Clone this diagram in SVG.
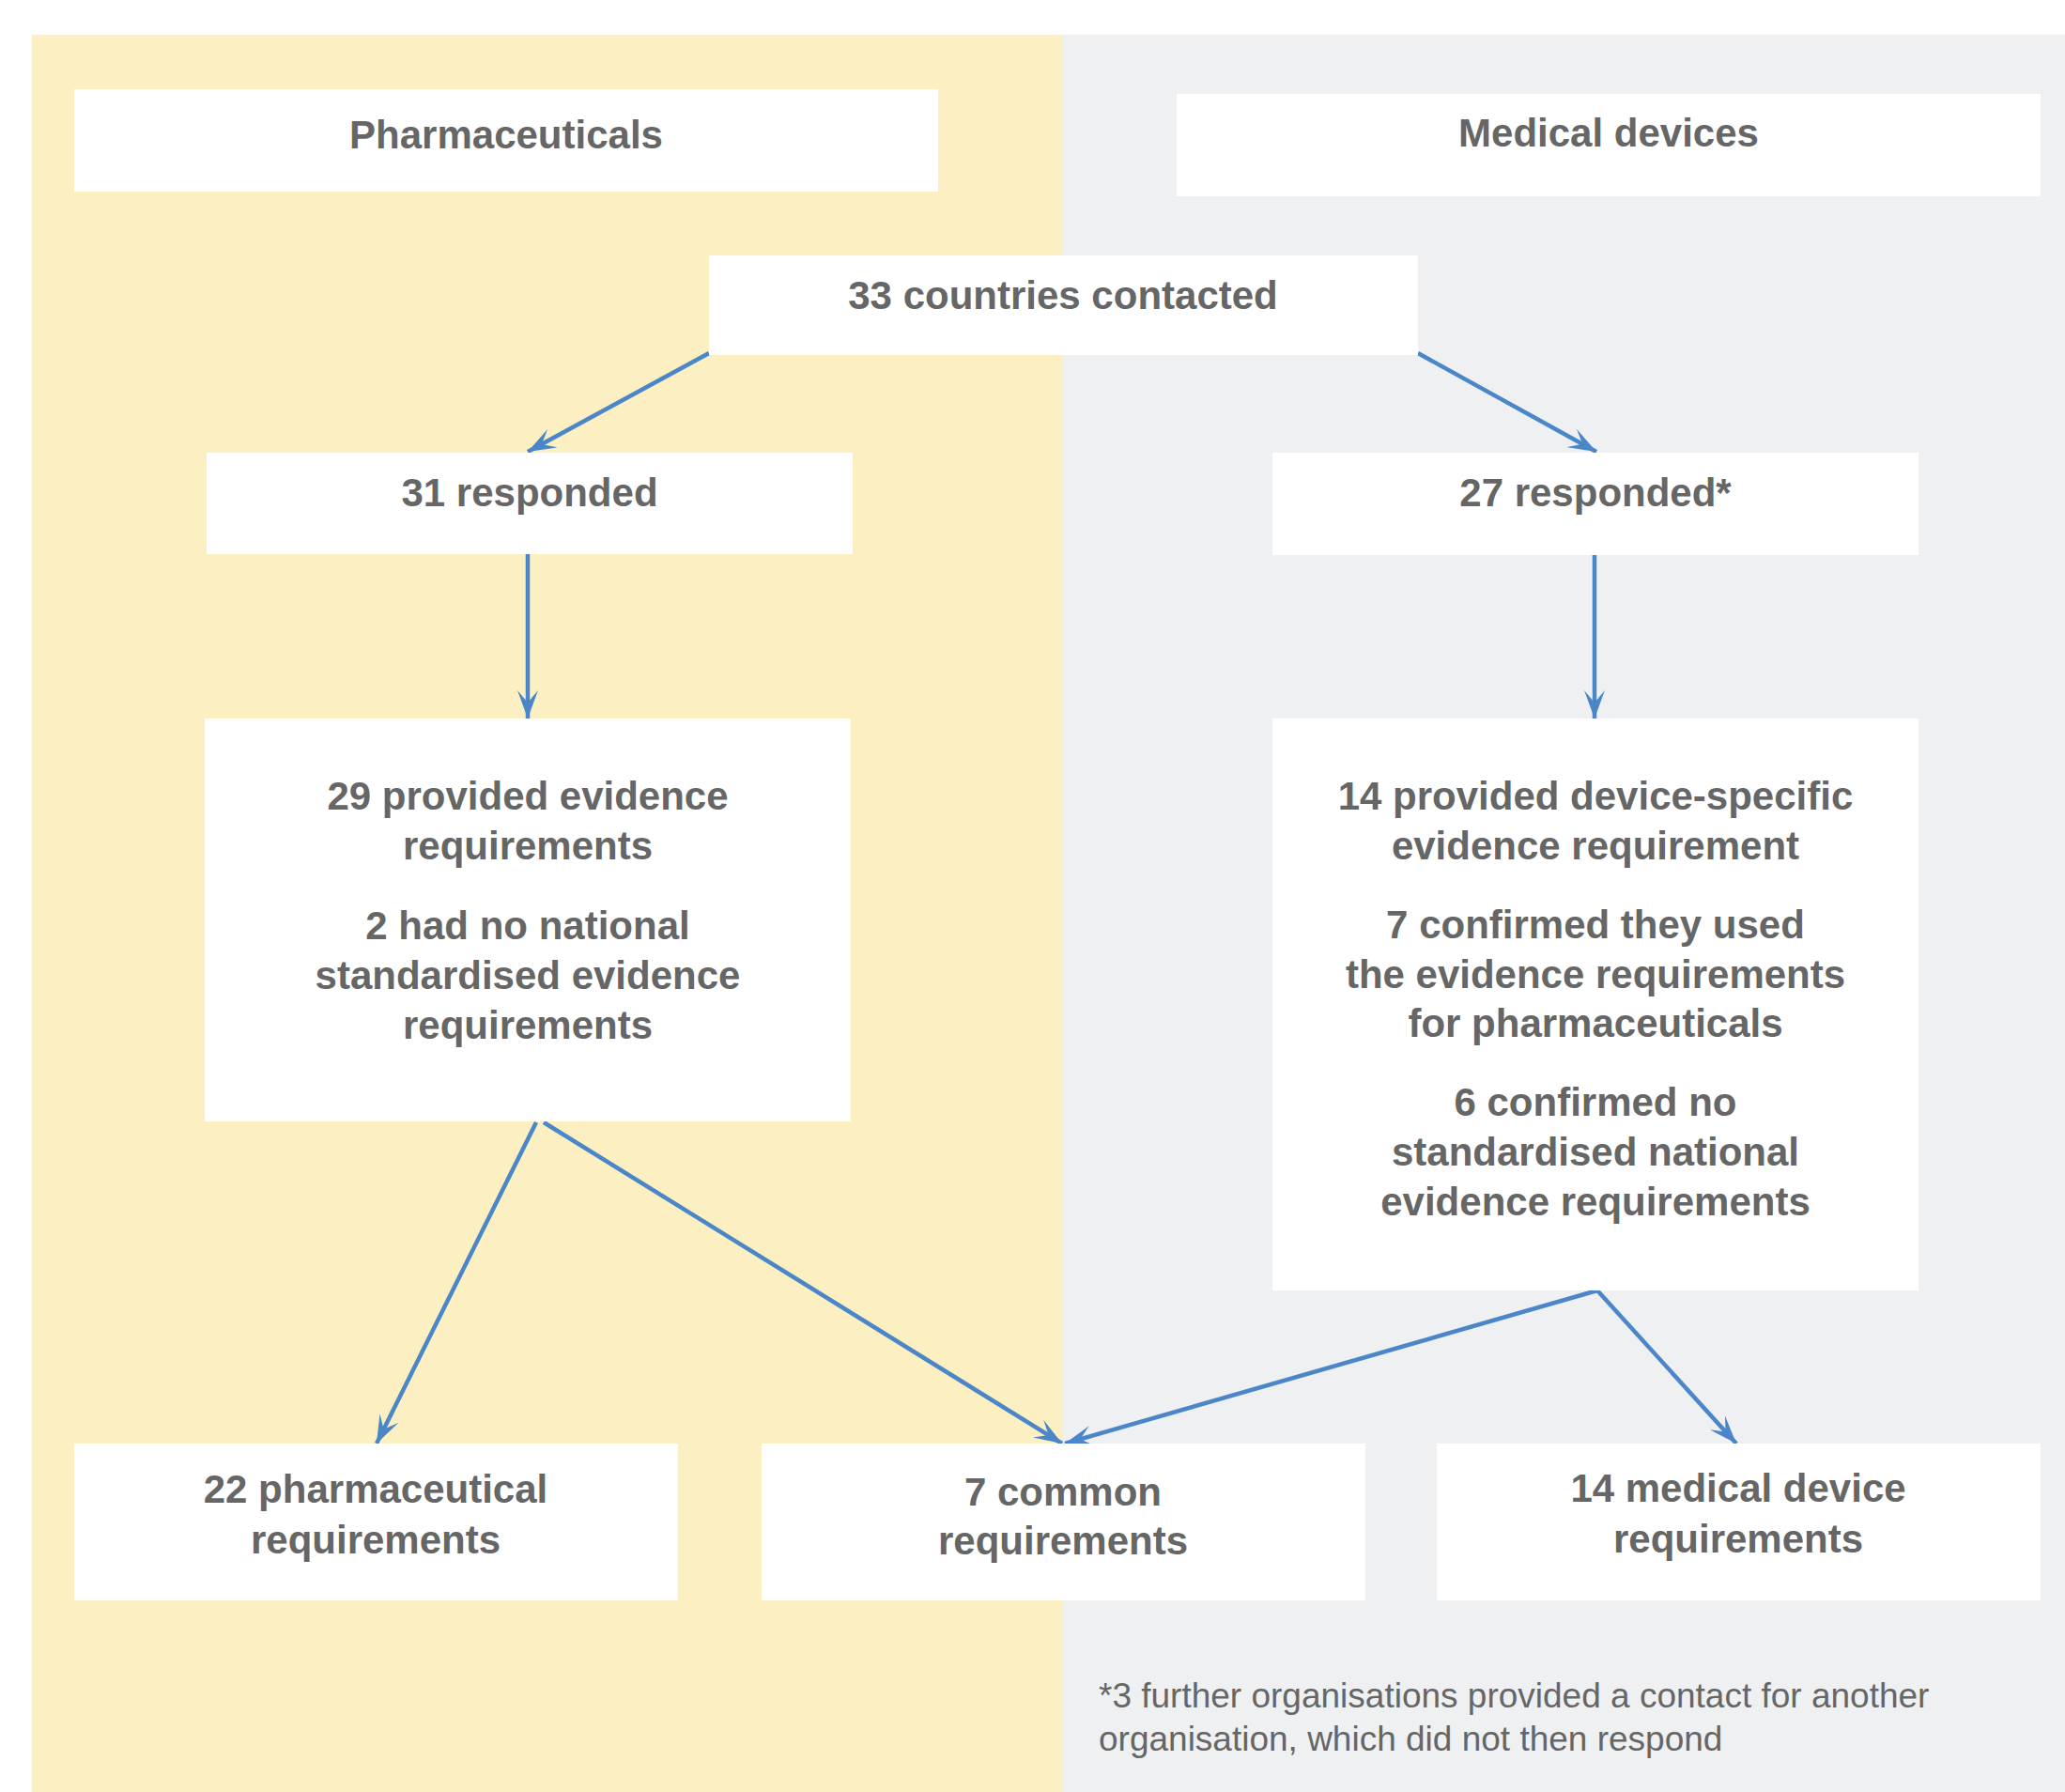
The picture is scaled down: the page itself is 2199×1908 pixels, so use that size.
<svg xmlns="http://www.w3.org/2000/svg" width="2199" height="1908" viewBox="0 0 2199 1908">
<style>
.box{fill:#ffffff}
.t{font-family:"Liberation Sans",Arial,sans-serif;font-weight:bold;font-size:42px;fill:#666666;text-anchor:middle}
.fn{font-family:"Liberation Sans",Arial,sans-serif;font-size:37px;fill:#666666}
.c{stroke:#4a86c8;stroke-width:4.5;fill:none;marker-end:url(#ah)}
</style>
<defs>
<marker id="ah" viewBox="0 0 30 22" refX="30" refY="11" markerWidth="30" markerHeight="22" orient="auto" markerUnits="userSpaceOnUse">
<path d="M0,0 L30,11 L0,22 L13,11 Z" fill="#4a86c8"/>
</marker>
</defs>
<rect x="0" y="0" width="2199" height="1908" fill="#ffffff"/>
<rect x="34" y="37" width="1098" height="1871" fill="#fcf0c2"/>
<rect x="1132" y="37" width="1067" height="1871" fill="#eff0f2"/>
<g id="connectors">
<line class="c" x1="755" y1="376" x2="562" y2="481"/>
<line class="c" x1="1510" y1="376" x2="1700" y2="481"/>
<line class="c" x1="562" y1="590" x2="562" y2="765"/>
<line class="c" x1="1698" y1="591" x2="1698" y2="765"/>
<line class="c" x1="571" y1="1195" x2="401" y2="1537"/>
<line class="c" x1="579" y1="1195" x2="1131" y2="1537"/>
<line class="c" x1="1701" y1="1374" x2="1134" y2="1537"/>
<line class="c" x1="1701" y1="1374" x2="1849" y2="1537"/>
</g>
<g id="pharmaceuticals">
<rect class="box" x="79" y="95" width="920" height="109"/>
<text class="t" x="539" y="158">Pharmaceuticals</text>
</g>
<g id="medical-devices">
<rect class="box" x="1253" y="100" width="920" height="109"/>
<text class="t" x="1713" y="156">Medical devices</text>
</g>
<g id="contacted">
<rect class="box" x="755" y="272" width="755" height="106"/>
<text class="t" x="1132" y="329">33 countries contacted</text>
</g>
<g id="responded31">
<rect class="box" x="220" y="482" width="688" height="108"/>
<text class="t" x="564" y="539">31 responded</text>
</g>
<g id="responded27">
<rect class="box" x="1355" y="482" width="688" height="109"/>
<text class="t" x="1699" y="539">27 responded*</text>
</g>
<g id="pharma-evidence">
<rect class="box" x="218" y="765" width="688" height="429"/>
<text class="t" x="562" y="862">29 provided evidence</text>
<text class="t" x="562" y="915">requirements</text>
<text class="t" x="562" y="1000">2 had no national</text>
<text class="t" x="562" y="1053">standardised evidence</text>
<text class="t" x="562" y="1106">requirements</text>
</g>
<g id="device-evidence">
<rect class="box" x="1355" y="765" width="688" height="609"/>
<text class="t" x="1699" y="862">14 provided device-specific</text>
<text class="t" x="1699" y="915">evidence requirement</text>
<text class="t" x="1699" y="999">7 confirmed they used</text>
<text class="t" x="1699" y="1052">the evidence requirements</text>
<text class="t" x="1699" y="1104">for pharmaceuticals</text>
<text class="t" x="1699" y="1188">6 confirmed no</text>
<text class="t" x="1699" y="1241">standardised national</text>
<text class="t" x="1699" y="1294">evidence requirements</text>
</g>
<g id="pharma-req">
<rect class="box" x="79" y="1537" width="643" height="167"/>
<text class="t" x="400" y="1600">22 pharmaceutical</text>
<text class="t" x="400" y="1654">requirements</text>
</g>
<g id="common-req">
<rect class="box" x="811" y="1537" width="643" height="167"/>
<text class="t" x="1132" y="1603">7 common</text>
<text class="t" x="1132" y="1655">requirements</text>
</g>
<g id="device-req">
<rect class="box" x="1530" y="1537" width="643" height="167"/>
<text class="t" x="1851" y="1599">14 medical device</text>
<text class="t" x="1851" y="1653">requirements</text>
</g>
<g id="footnote">
<text class="fn" x="1170" y="1818">*3 further organisations provided a contact for another</text>
<text class="fn" x="1170" y="1864">organisation, which did not then respond</text>
</g>
</svg>
